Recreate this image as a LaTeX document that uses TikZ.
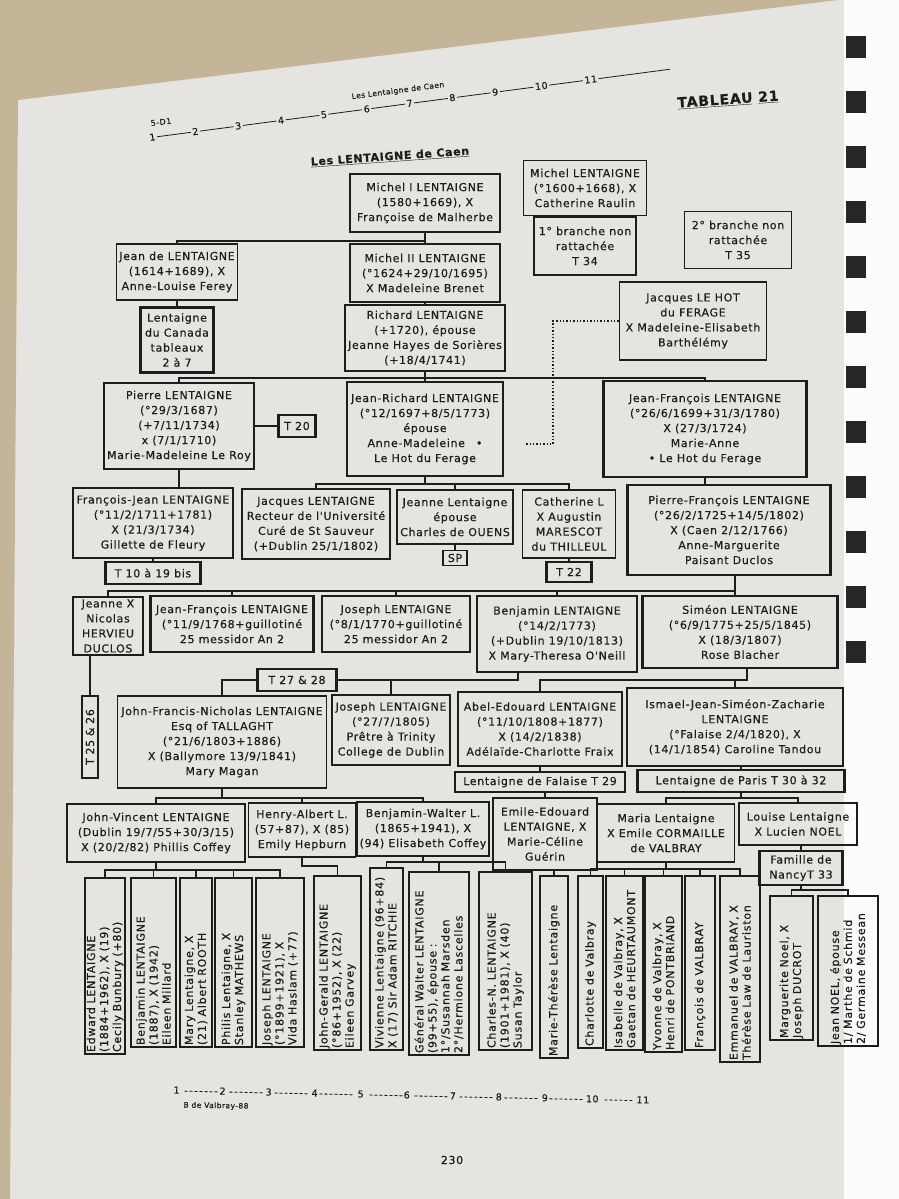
\documentclass[tikz,border=0pt]{standalone}
\usepackage{fontspec}
\newfontfamily\chartfont[LetterSpace=6,FakeBold=0.4]{DejaVu Sans}
\newfontfamily\vchartfont[LetterSpace=7,FakeBold=0.4]{DejaVu Sans}
\definecolor{pagecol}{RGB}{230,228,224}
\definecolor{ink}{RGB}{30,28,28}
\definecolor{cloth}{RGB}{196,180,152}
\newcommand{\hfnt}{\chartfont\fontsize{11}{15}\selectfont}
\newcommand{\vfnt}{\vchartfont\fontsize{11}{13}\selectfont}
\newcommand{\tseg}{\,\rule[0.3em]{34pt}{0.8pt}\,}
\newcommand{\dseg}[1]{\leaders\hbox to 5pt{\hss-\hss}\hskip #1}
\tikzset{
  box/.style={draw=ink, line width=1.6pt, align=center, font=\hfnt, text=ink, inner sep=2pt},
  tbox/.style={box, line width=2.8pt},
  vbox/.style={box, rotate=90, align=left, font=\vfnt, inner xsep=2pt, inner ysep=1pt},
  tvbox/.style={vbox, line width=2.8pt},
  link/.style={draw=ink, line width=1.4pt},
  dots/.style={draw=ink, line width=1.4pt, dotted},
}

\begin{document}
\begin{tikzpicture}[x=1pt,y=-1pt]
\useasboundingbox (0,0) rectangle (899,1199);
% page, table and binding
    \fill[pagecol] (0,0) rectangle (899,1199);
    \fill[cloth] (0,0) -- (838,0) -- (18,100) -- (10,1199) -- (0,1199) -- cycle;
    \fill[white!90!pagecol] (844,0) rectangle (899,1199);
    \foreach \ty in {47,102,...,652} \fill[black!85] (846,\ty-11) rectangle (866,\ty+11);

% header
    \node[font=\chartfont\fontsize{8}{9}\selectfont, text=ink, rotate=7] (ref) at (161,122) {5-D1};
    \node[font=\chartfont\fontsize{9.5}{10}\selectfont, text=ink, rotate=7.5, anchor=west] (topline) at (146,138)
        {1\tseg 2\tseg 3\tseg 4\tseg 5\tseg 6\tseg 7\tseg 8\tseg 9\tseg 10\tseg 11\,\rule[0.3em]{72pt}{0.8pt}};
    \node[font=\chartfont\fontsize{7.5}{9}\selectfont, text=ink, rotate=7.5] (toplabel) at (398,91) {Les Lentaigne de Caen};
    \node[font=\chartfont\bfseries\fontsize{14}{16}\selectfont, text=ink, rotate=4] (tableau) at (728,100) {\underline{TABLEAU}\ \underline{21}};
    \node[font=\chartfont\bfseries\fontsize{11}{13}\selectfont, text=ink, rotate=4] (title) at (390,157) {\underline{Les LENTAIGNE de Caen}};

% bus points
    \coordinate (b1) at (425,241);
    \coordinate (b2) at (425,378);
    \coordinate (b3) at (425,484);
    \coordinate (b4) at (735,591);
    \coordinate (b5) at (518,680);
    \coordinate (b6) at (747,680);
    \coordinate (b7) at (222,798);
    \coordinate (b8) at (741,798);
    \coordinate (b9) at (156,870);
    \coordinate (b10) at (302,866);
    \coordinate (b11) at (423,862);
    \coordinate (b12) at (666,869);
    \coordinate (b13) at (801,890);
    \coordinate (dotbend) at (553,444);
    \coordinate (dotend) at (525,444);

% generations 1 to 3
    \node[box, minimum width=150, minimum height=58] (michelI) at (425,203) {Michel I LENTAIGNE\\(1580+1669), X\\Françoise de Malherbe};
    \node[box, minimum width=123, minimum height=55] (michelR) at (585,188) {Michel LENTAIGNE\\(°1600+1668), X\\Catherine Raulin};
    \node[tbox, minimum width=102, minimum height=58] (branche1) at (585,246) {1° branche non\\rattachée\\T 34};
    \node[box, minimum width=107, minimum height=57] (branche2) at (738,240) {2° branche non\\rattachée\\T 35};
    \node[box, minimum width=121, minimum height=56] (jean) at (177,272) {Jean de LENTAIGNE\\(1614+1689), X\\Anne-Louise Ferey};
    \node[box, minimum width=150, minimum height=58] (michelII) at (425,273) {Michel II LENTAIGNE\\(°1624+29/10/1695)\\X Madeleine Brenet};
    \node[tbox, minimum width=73, minimum height=65] (canada) at (177,340) {Lentaigne\\du Canada\\tableaux\\2 à 7};
    \node[box, minimum width=160, minimum height=66] (richard) at (425,338) {Richard LENTAIGNE\\(+1720), épouse\\Jeanne Hayes de Sorières\\(+18/4/1741)};
    \node[box, minimum width=147, minimum height=78] (jacques) at (693,321) {Jacques LE HOT\\du FERAGE\\X Madeleine-Elisabeth\\Barthélémy};

% generation 4
    \node[box, minimum width=150, minimum height=86] (pierre) at (179,426) {Pierre LENTAIGNE\\(°29/3/1687)\\(+7/11/1734)\\x (7/1/1710)\\Marie-Madeleine Le Roy};
    \node[tbox, minimum width=37, minimum height=22] (t20) at (297,426) {T 20};
    \node[tbox, minimum width=156, minimum height=94] (jeanrichard) at (425,429) {Jean-Richard LENTAIGNE\\(°12/1697+8/5/1773)\\épouse\\Anne-Madeleine\quad •\\Le Hot du Ferage};
    \node[tbox, minimum width=203, minimum height=96] (jeanfrancois) at (705,429) {Jean-François LENTAIGNE\\(°26/6/1699+31/3/1780)\\X (27/3/1724)\\Marie-Anne\\• Le Hot du Ferage};

% generation 5
    \node[box, minimum width=160, minimum height=70] (francoisjean) at (153,523) {François-Jean LENTAIGNE\\(°11/2/1711+1781)\\X (21/3/1734)\\Gillette de Fleury};
    \node[tbox, minimum width=95, minimum height=22] (t10) at (153,573) {T 10 à 19 bis};
    \node[box, minimum width=148, minimum height=70] (jacquesL) at (316,524) {Jacques LENTAIGNE\\Recteur de l'Université\\Curé de St Sauveur\\(+Dublin 25/1/1802)};
    \node[box, minimum width=116, minimum height=54] (jeanne) at (455,517) {Jeanne Lentaigne\\épouse\\Charles de OUENS};
    \node[box, minimum width=24, minimum height=15] (sp) at (455,558) {SP};
    \node[box, minimum width=93, minimum height=68] (catherine) at (569,524) {Catherine L\\X Augustin\\MARESCOT\\du THILLEUL};
    \node[tbox, minimum width=45, minimum height=20] (t22) at (569,572) {T 22};
    \node[tbox, minimum width=203, minimum height=90] (pierrefrancois) at (729,530) {Pierre-François LENTAIGNE\\(°26/2/1725+14/5/1802)\\X (Caen 2/12/1766)\\Anne-Marguerite\\Paisant Duclos};

% generation 6
    \node[tbox, minimum width=70, minimum height=58] (jeanneN) at (108,626) {Jeanne X\\Nicolas\\HERVIEU\\DUCLOS};
    \node[tbox, minimum width=163, minimum height=56] (jeanfrancoisL) at (232,624) {Jean-François LENTAIGNE\\(°11/9/1768+guillotiné\\25 messidor An 2};
    \node[tbox, minimum width=148, minimum height=56] (josephL) at (396,624) {Joseph LENTAIGNE\\(°8/1/1770+guillotiné\\25 messidor An 2};
    \node[tbox, minimum width=160, minimum height=76] (benjamin) at (557,634) {Benjamin LENTAIGNE\\(°14/2/1773)\\(+Dublin 19/10/1813)\\X Mary-Theresa O'Neill};
    \node[tbox, minimum width=195, minimum height=72] (simeon) at (740,632) {Siméon LENTAIGNE\\(°6/9/1775+25/5/1845)\\X (18/3/1807)\\Rose Blacher};
    \node[tvbox, align=center, text width=78pt, minimum height=16] (t25) at (90,737) {T 25 \& 26};

% generation 7
    \node[tbox, minimum width=79, minimum height=22] (t27) at (297,680) {T 27 \& 28};
    \node[box, minimum width=209, minimum height=92] (johnfrancis) at (222,742) {John-Francis-Nicholas LENTAIGNE\\Esq of TALLAGHT\\(°21/6/1803+1886)\\X (Ballymore 13/9/1841)\\Mary Magan};
    \node[box, minimum width=118, minimum height=70] (josephL2) at (391,730) {Joseph LENTAIGNE\\(°27/7/1805)\\Prêtre à Trinity\\College de Dublin};
    \node[tbox, minimum width=164, minimum height=74] (abel) at (540,729) {Abel-Edouard LENTAIGNE\\(°11/10/1808+1877)\\X (14/2/1838)\\Adélaïde-Charlotte Fraix};
    \node[box, minimum width=216, minimum height=78] (ismael) at (735,727) {Ismael-Jean-Siméon-Zacharie\\LENTAIGNE\\(°Falaise 2/4/1820), X\\(14/1/1854) Caroline Tandou};
    \node[tbox, minimum width=170, minimum height=20] (falaise) at (540,782) {Lentaigne de Falaise T 29};
    \node[tbox, minimum width=207, minimum height=22] (paris) at (741,781) {Lentaigne de Paris T 30 à 32};

% generation 8
    \node[box, minimum width=178, minimum height=58] (johnvincent) at (156,833) {John-Vincent LENTAIGNE\\(Dublin 19/7/55+30/3/15)\\X (20/2/82) Phillis Coffey};
    \node[box, minimum width=107, minimum height=54] (henry) at (302,830) {Henry-Albert L.\\(57+87), X (85)\\Emily Hepburn};
    \node[box, minimum width=132, minimum height=54] (benjaminW) at (423,829) {Benjamin-Walter L.\\(1865+1941), X\\(94) Elisabeth Coffey};
    \node[box, minimum width=104, minimum height=72] (emile) at (545,834) {Emile-Edouard\\LENTAIGNE, X\\Marie-Céline\\Guérin};
    \node[box, minimum width=137, minimum height=58] (maria) at (666,833) {Maria Lentaigne\\X Emile CORMAILLE\\de VALBRAY};
    \node[box, minimum width=118, minimum height=42] (louise) at (798,824) {Louise Lentaigne\\X Lucien NOEL};
    \node[tbox, minimum width=83, minimum height=34] (nancy) at (801,868) {Famille de\\NancyT 33};

% generation 9 (upright text)
    \node[vbox, text width=172pt, minimum height=40] (edward) at (105,966) {Edward LENTAIGNE\\(1884+1962), X (19)\\Cecily Bunbury (+80)};
    \node[vbox, text width=165pt, minimum height=45] (benjaminL) at (153.5,962.5) {Benjamin LENTAIGNE\\(1887), X (1942)\\Eileen Millard};
    \node[vbox, text width=165pt, minimum height=32] (mary) at (196,962.5) {Mary Lentaigne, X\\(21) Albert ROOTH};
    \node[vbox, text width=165pt, minimum height=37] (philis) at (233.5,962.5) {Philis Lentaigne, X\\Stanley MATHEWS};
    \node[vbox, text width=165pt, minimum height=48] (joseph) at (280,962.5) {Joseph LENTAIGNE\\(°1899+1921), X\\Vida Haslam (+77)};
    \node[vbox, text width=170pt, minimum height=47] (johngerald) at (337.5,963) {John-Gerald LENTAIGNE\\(°86+1952), X (22)\\Eileen Garvey};
    \node[vbox, text width=178pt, minimum height=33] (vivienne) at (386.5,959) {Vivienne Lentaigne (96+84)\\X (17) Sir Adam RITCHIE};
    \node[vbox, text width=179pt, minimum height=60] (walter) at (439,963.5) {Général Walter LENTAIGNE\\(99+55), épouse :\\1°/Susannah Marsden\\2°/Hermione Lascelles};
    \node[vbox, text width=174pt, minimum height=53] (charles) at (505.5,961) {Charles-N. LENTAIGNE\\(1901+1981), X (40)\\Susan Taylor};
    \node[vbox, text width=178pt, minimum height=28] (marieT) at (554,967) {Marie-Thérèse Lentaigne};
    \node[vbox, text width=168pt, minimum height=25] (charlotte) at (590.5,962) {Charlotte de Valbray};
    \node[vbox, text width=170pt, minimum height=37] (isabelle) at (624.5,963) {Isabelle de Valbray, X\\Gaetan de HEURTAUMONT};
    \node[vbox, text width=172pt, minimum height=37] (yvonne) at (663.5,964) {Yvonne de Valbray, X\\Henri de PONTBRIAND};
    \node[vbox, text width=170pt, minimum height=30] (francoisV) at (700,963) {François de VALBRAY};
    \node[vbox, text width=182pt, minimum height=40] (emmanuel) at (740,969) {Emmanuel de VALBRAY, X\\Thérèse Law de Lauriston};
    \node[vbox, text width=140pt, minimum height=43] (marguerite) at (791.5,968) {Marguerite Noel, X\\Joseph DUCROT};
    \node[vbox, text width=146pt, minimum height=60] (jeanNoel) at (848,971) {Jean NOEL, épouse\\1/ Marthe de Schmid\\2/ Germaine Messean};

% connectors
    \draw[link] (michelI.south) -- (b1) -| (jean.north);
    \draw[link] (b1) -- (michelII.north);
    \draw[link] (michelR.south) -- (branche1.north);
    \draw[link] (jean.south) -- (canada.north);
    \draw[link] (michelII.south) -- (richard.north);
    \draw[link] (richard.south) -- (b2) -- (jeanrichard.north);
    \draw[link] (pierre.north) |- (b2) -| (jeanfrancois.north);
    \draw[link] (pierre.east) -- (t20.west);
    \draw[dots] (jacques.west) -| (dotbend) -- (dotend);
    \draw[link] (jeanrichard.south) -- (b3);
    \draw[link] (jacquesL.north) |- (b3) -| (catherine.north);
    \draw[link] (jeanne.north) -- (jeanne.north |- b3);
    \draw[link] (jeanne.south) -- (sp.north);
    \draw[link] (catherine.south) -- (t22.north);
    \draw[link] (pierre.south) -- (pierre.south |- francoisjean.north);
    \draw[link] (francoisjean.south) -- (t10.north);
    \draw[link] (jeanfrancois.south) -- (jeanfrancois.south |- pierrefrancois.north);
    \draw[link] (pierrefrancois.south -| b4) -- (b4 |- simeon.north);
    \draw[link] (jeanneN.north) |- (b4);
    \draw[link] (jeanfrancoisL.north) -- (jeanfrancoisL.north |- b4);
    \draw[link] (josephL.north) -- (josephL.north |- b4);
    \draw[link] (benjamin.north) -- (benjamin.north |- b4);
    \draw[link] (jeanneN.south -| t25.east) -- (t25.east);
    \draw[link] (benjamin.south -| b5) -- (b5) -- (t27.east);
    \draw[link] (t27.west) -| (johnfrancis.north);
    \draw[link] (josephL2.north) -- (josephL2.north |- b5);
    \draw[link] (simeon.south -| b6) -- (b6) -| (abel.north);
    \draw[link] (ismael.north) -- (ismael.north |- b6);
    \draw[link] (abel.south) -- (falaise.north);
    \draw[link] (paris.north) -- (paris.north |- ismael.south);
    \draw[link] (johnfrancis.south) -- (b7);
    \draw[link] (johnvincent.north) |- (b7) -| (benjaminW.north);
    \draw[link] (henry.north) -- (henry.north |- b7);
    \draw[link] (emile.north) -- (emile.north |- falaise.south);
    \draw[link] (paris.south) -- (b8);
    \draw[link] (maria.north) |- (b8) -| (louise.north);
    \draw[link] (nancy.north) -- (nancy.north |- louise.south);
    \draw[link] (johnvincent.south -| b9) -- (b9);
    \draw[link] (edward.east) |- (b9) -| (joseph.east);
    \draw[link] (benjaminL.east) -- (benjaminL.east |- b9);
    \draw[link] (mary.east) -- (mary.east |- b9);
    \draw[link] (philis.east) -- (philis.east |- b9);
    \draw[link] (henry.south) |- (b10 -| johngerald.east) -- (johngerald.east);
    \draw[link] (benjaminW.south) -- (b11);
    \draw[link] (vivienne.east) |- (b11) -| (charles.east);
    \draw[link] (walter.east) -- (walter.east |- b11);
    \draw[link] (marieT.east) -- (marieT.east |- emile.south);
    \draw[link] (maria.south) -- (b12);
    \draw[link] (charlotte.east) |- (b12) -| (emmanuel.east);
    \draw[link] (isabelle.east) -- (isabelle.east |- b12);
    \draw[link] (yvonne.east) -- (yvonne.east |- b12);
    \draw[link] (francoisV.east) -- (francoisV.east |- b12);
    \draw[link] (nancy.south) -- (b13);
    \draw[link] (marguerite.east) |- (b13) -| (jeanNoel.east);

% footer
    \node[font=\chartfont\fontsize{9.5}{10}\selectfont, text=ink, rotate=-1.2, anchor=west] (botline) at (170,1090)
        {1\dseg{40pt}2\dseg{40pt}3\dseg{40pt}4\dseg{40pt}5\dseg{40pt}6\dseg{40pt}7\dseg{40pt}8\dseg{40pt}9\dseg{38pt}10\dseg{38pt}11\dseg{84pt}};
    \node[font=\chartfont\fontsize{7.5}{9}\selectfont, text=ink, rotate=-1] (author) at (216,1106) {B de Valbray-88};
    \node[font=\chartfont\fontsize{11}{13}\selectfont, text=ink] (page) at (452,1160) {230};
\end{tikzpicture}
\end{document}
